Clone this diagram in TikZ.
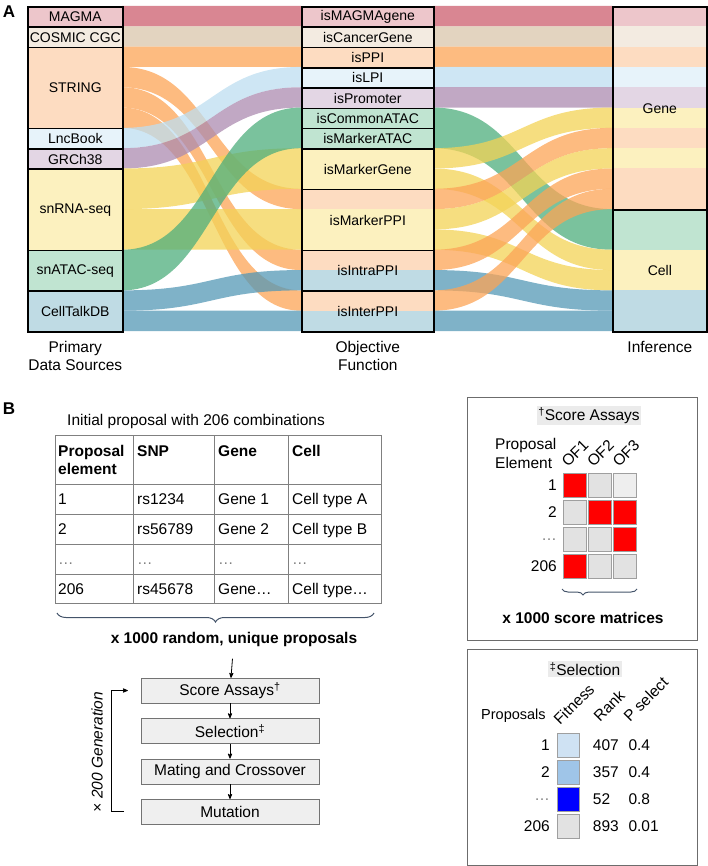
\documentclass[tikz,border=0pt]{standalone}
\usepackage{fontspec}
\setmainfont{Liberation Sans}
\usetikzlibrary{arrows,positioning,decorations.pathreplacing}

% flow colours
\definecolor{pkF}{RGB}{204,94,110}
\definecolor{bgF}{RGB}{218,198,171}
\definecolor{orF}{RGB}{252,164,86}
\definecolor{blF}{RGB}{190,222,240}
\definecolor{puF}{RGB}{172,139,176}
\definecolor{yeF}{RGB}{243,211,86}
\definecolor{grF}{RGB}{78,174,124}
\definecolor{cbF}{RGB}{84,152,182}
% box colours
\definecolor{pkL}{RGB}{237,198,203}
\definecolor{bgL}{RGB}{243,235,225}
\definecolor{orL}{RGB}{253,220,193}
\definecolor{blL}{RGB}{231,243,250}
\definecolor{puL}{RGB}{227,214,228}
\definecolor{yeL}{RGB}{252,241,191}
\definecolor{grL}{RGB}{192,228,209}
\definecolor{cbL}{RGB}{191,219,228}
% panel B
\definecolor{boxgray}{RGB}{239,239,239}
\definecolor{hlgray}{RGB}{235,235,235}
\definecolor{braceblue}{RGB}{68,84,106}
\definecolor{cellgray}{RGB}{226,226,226}
\definecolor{cellpale}{RGB}{238,238,238}
\definecolor{fitA}{RGB}{207,226,243}
\definecolor{fitB}{RGB}{159,197,232}
\definecolor{fitC}{RGB}{0,0,255}
\definecolor{tabline}{RGB}{128,128,128}

% one band of the sankey: colour, x from, unit from, x to, unit to, units
\newcommand{\flow}[6]{%
  \fill[#1,fill opacity=0.75] (#2,#3) .. controls ({(#2+#4)/2},#3) and ({(#2+#4)/2},#5) .. (#4,#5)
    -- (#4,{#5+#6}) .. controls ({(#2+#4)/2},{#5+#6}) and ({(#2+#4)/2},{#3+#6}) .. (#2,{#3+#6}) -- cycle;}
\newcommand{\elli}{\textcolor{gray}{…}}

\begin{document}
\begin{tikzpicture}[x=1pt,y=-1pt,->,>=stealth',node distance=15pt,
    every node/.style={font=\fontsize{15.5}{18.5}\selectfont},
    srcbox/.style={draw,line width=1.6pt,anchor=north west,inner sep=0pt,font=\fontsize{14}{16}\selectfont},
    caption/.style={below=5pt of #1,anchor=north,align=center},
    stepbox/.style={draw=gray!90!black,fill=boxgray,minimum width=178pt,minimum height=25pt,inner sep=0pt},
    panel/.style={draw=gray!85!black,line width=0.8pt,anchor=north west,inner sep=0pt},
    hilite/.style={fill=hlgray,inner sep=1.5pt},
    hcell/.style={draw=gray!75,minimum width=23pt,minimum height=24pt,inner sep=0pt},
    fcell/.style={draw=gray!75,minimum width=22pt,minimum height=24pt,inner sep=0pt},
    tick/.style={rotate=45,anchor=base west,inner sep=0pt},
    cell/.style={anchor=base west,inner sep=0pt},
    curly/.style={-,decorate,decoration={brace,mirror,amplitude=#1},draw=braceblue,line width=1pt}]

  \useasboundingbox (0,0) rectangle (708,866);

  \node[font=\fontsize{17}{18}\selectfont\bfseries] (labA) at (9,11.5) {A};

  \begin{scope}[yshift=-6pt,y=-20.3125pt]
    % stripes inside the columns
    \foreach \c [count=\i from 0] in {pkL,bgL,orL,orL,orL,orL,blL,puL,yeL,yeL,yeL,yeL,grL,grL,cbL,cbL}
      \fill[\c] (27,\i) rectangle (122,\i+1);
    \foreach \c [count=\i from 0] in {pkL,bgL,orL,blL,puL,grL,grL,yeL,yeL,orL,yeL,yeL,orL,cbL,orL,cbL}
      \fill[\c] (301,\i) rectangle (433,\i+1);
    \foreach \c [count=\i from 0] in {pkL,bgL,orL,blL,puL,yeL,orL,yeL,orL,orL,grL,grL,yeL,yeL,cbL,cbL}
      \fill[\c] (612,\i) rectangle (706,\i+1);

    % bands
    \foreach \c/\a/\b/\h in {pkF/0/0/1, bgF/1/1/1, orF/2/2/1, orF/3/9/1, orF/4/12/1, orF/5/14/1,
        blF/6/3/1, puF/7/4/1, yeF/8/7/2, yeF/10/10/2, grF/12/5/2, cbF/14/13/1, cbF/15/15/1}
      {\flow{\c}{122}{\a}{301}{\b}{\h}}
    \foreach \c/\a/\b/\h in {pkF/0/0/1, bgF/1/1/1, orF/2/2/1, blF/3/3/1, puF/4/4/1, grF/5/10/2,
        yeF/7/5/1, yeF/8/12/1, orF/9/6/1, yeF/10/7/1, yeF/11/13/1, orF/12/8/1, cbF/13/14/1,
        orF/14/9/1, cbF/15/15/1}
      {\flow{\c}{433}{\a}{612}{\b}{\h}}

    % columns
    \foreach \n/\u/\h/\t in {magma/0/1/MAGMA, cosmic/1/1/COSMIC CGC, string/2/4/STRING,
        lncbook/6/1/LncBook, grch/7/1/GRCh38, snrna/8/4/snRNA-seq, snatac/12/2/snATAC-seq,
        celltalk/14/2/CellTalkDB}
      \node[srcbox,minimum width=95pt,minimum height=\h*20.3125pt] (\n) at (27,\u) {\t};
    \foreach \n/\u/\h/\t in {ismagma/0/1/isMAGMAgene, iscancer/1/1/isCancerGene, isppi/2/1/isPPI,
        islpi/3/1/isLPI, isprom/4/1/isPromoter, iscommon/5/1/isCommonATAC, ismatac/6/1/isMarkerATAC,
        ismgene/7/2/isMarkerGene, ismppi/9/3/isMarkerPPI, isintra/12/2/isIntraPPI, isinter/14/2/isInterPPI}
      \node[srcbox,minimum width=132pt,minimum height=\h*20.3125pt] (\n) at (301,\u) {\t};
    \foreach \n/\u/\h/\t in {gene/0/10/Gene, cell/10/6/Cell}
      \node[srcbox,minimum width=94pt,minimum height=\h*20.3125pt] (\n) at (612,\u) {\t};
  \end{scope}

  \node[caption=celltalk] (capsrc) {Primary\\Data Sources};
  \node[caption=isinter] (capobj) {Objective\\Function};
  \node[caption=cell] (capinf) {Inference};

  % B: table
  \node[font=\fontsize{17}{18}\selectfont\bfseries] (labB) at (9,408.5) {B};
  \node[anchor=west,inner sep=0pt] (init) at (67,421) {Initial proposal with 206 combinations};

  \foreach \y in {435,484,514,544,574,603}
    \draw[-,tabline,line width=0.7pt] (55,\y) -- (381.7,\y);
  \foreach \x in {55,133.3,214.3,288.3,381.7}
    \draw[-,tabline,line width=0.7pt] (\x,435) -- (\x,603);

  \node[anchor=west,align=left,inner sep=0pt,font=\fontsize{15.5}{18}\selectfont\bfseries] (hprop) at (58,459.5) {Proposal\\element};
  \node[cell,font=\fontsize{15.5}{18}\selectfont\bfseries] (hsnp) at (137,456) {SNP};
  \node[cell,font=\fontsize{15.5}{18}\selectfont\bfseries] (hgene) at (218,456) {Gene};
  \node[cell,font=\fontsize{15.5}{18}\selectfont\bfseries] (hcell) at (292,456) {Cell};
  \foreach \y/\a/\b/\c/\d [count=\r] in {504.5/1/rs1234/Gene 1/Cell type A, 534.5/2/rs56789/Gene 2/Cell type B,
      564/\elli/\elli/\elli/\elli, 594/206/rs45678/Gene…/Cell type…}
  {
    \node[cell] (r\r a) at (58,\y) {\a};
    \node[cell] (r\r b) at (137,\y) {\b};
    \node[cell] (r\r c) at (218,\y) {\c};
    \node[cell] (r\r d) at (292,\y) {\d};
  }

  \draw[curly=9pt] (57,613) -- (374,613);
  \node[font=\fontsize{15.5}{18}\selectfont\bfseries] (props) at (234,639) {x 1000 random, unique proposals};

  % B: loop
  \node[stepbox] (score) at (230,690.5) {Score Assays\textsuperscript{†}};
  \node[stepbox,below=of score] (select) {Selection\textsuperscript{‡}};
  \node[stepbox,below=of select] (mate) {Mating and Crossover};
  \node[stepbox,below=of mate] (mutate) {Mutation};

  \draw[line width=0.8pt,shorten <=9pt] (props) -- (score);
  \draw[line width=0.8pt] (score) -- (select);
  \draw[line width=0.8pt] (select) -- (mate);
  \draw[line width=0.8pt] (mate) -- (mutate);
  \draw[line width=0.8pt] ([xshift=-16.7pt]mutate.west) -- ++(-12.3pt,0) |- ([xshift=-13pt]score.west);
  \node[rotate=90,font=\fontsize{15.5}{18}\selectfont\itshape] (gen) at (97,752) {× 200 Generation};

  % B: score assays
  \node[panel,minimum width=230pt,minimum height=243pt] (scorepanel) at (467,397) {};
  \node[hilite] (scoretitle) at (589,415.5) {\textsuperscript{†}Score Assays};
  \node[anchor=west,align=left,inner sep=0pt] (scoreprop) at (495,453.3) {Proposal\\Element};
  \foreach \t [count=\i] in {OF1,OF2,OF3}
    \node[tick] (of\i) at ({542.5+25.5*\i},468) {\t};
  \foreach \y/\l/\ca/\cb/\cc [count=\r] in {485/1/red/cellgray/cellpale, 512.2/2/cellgray/red/red,
      539.5/\elli/cellgray/cellgray/red, 566.5/206/red/cellgray/cellgray}
  {
    \node[anchor=east,inner sep=0pt] (sl\r) at (557,\y) {\l};
    \node[hcell,fill=\ca] (sc\r a) at (574.2,\y) {};
    \node[hcell,fill=\cb] (sc\r b) at (599.5,\y) {};
    \node[hcell,fill=\cc] (sc\r c) at (624.8,\y) {};
  }
  \draw[curly=6pt,decoration={aspect=0.28}] (562,589) -- (637,589);
  \node[font=\fontsize{15.5}{18}\selectfont\bfseries] (matrices) at (583,618) {x 1000 score matrices};

  % B: selection
  \node[panel,minimum width=230pt,minimum height=216pt] (selpanel) at (467,649) {};
  \node[hilite] (seltitle) at (585,669) {\textsuperscript{‡}Selection};
  \node[anchor=west,inner sep=0pt,font=\fontsize{14.5}{17}\selectfont] (proposals) at (481,716) {Proposals};
  \node[tick] (tfit) at (560,726) {Fitness};
  \node[tick] (trank) at (600,723) {Rank};
  \node[tick] (tpsel) at (630,723) {P select};
  \foreach \y/\l/\f/\k/\p [count=\r] in {744.7/1/fitA/407/0.4, 772/2/fitB/357/0.4,
      799.5/\elli/fitC/52/0.8, 826.5/206/cellgray/893/0.01}
  {
    \node[anchor=east,inner sep=0pt] (pl\r) at (550,\y) {\l};
    \node[fcell,fill=\f] (fc\r) at (568.3,\y) {};
    \node[anchor=west,inner sep=0pt] (rk\r) at (592.7,\y) {\k};
    \node[anchor=west,inner sep=0pt] (ps\r) at (628.3,\y) {\p};
  }
\end{tikzpicture}
\end{document}
